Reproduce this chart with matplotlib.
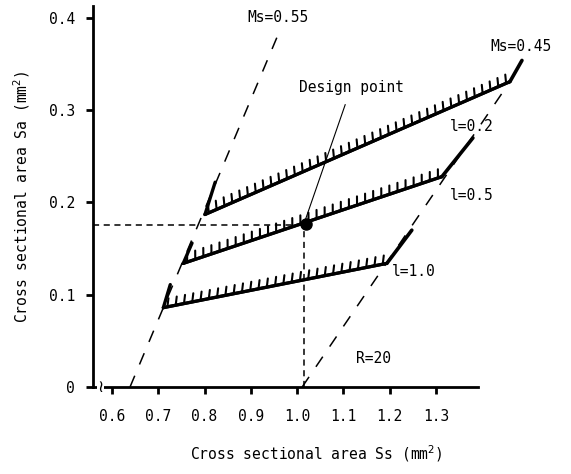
import numpy as np
import matplotlib
matplotlib.use('Agg')
import matplotlib.pyplot as plt
import matplotlib.patheffects as pe

plt.rcParams['font.family'] = ['DejaVu Sans Mono', 'DejaVu Sans']

# boundary lines (dashed)
ms55_x = [0.639, 0.959]
ms55_y = [0.0, 0.382]
ms45_x = [1.011, 1.460]
ms45_y = [0.0, 0.331]

# constant-length lines l = 0.2, 0.5, 1.0
l_labels = ['l=0.2', 'l=0.5', 'l=1.0']
left_x = [0.801, 0.754, 0.711]
left_y = [0.187, 0.134, 0.086]
right_x = [1.460, 1.313, 1.194]
right_y = [0.331, 0.228, 0.134]
# short bold end pieces
ltip_x = [0.823, 0.773, 0.726]
ltip_y = [0.222, 0.156, 0.111]
rtip_x = [1.486, 1.380, 1.248]
rtip_y = [0.354, 0.270, 0.170]
lab_x = [1.378, 1.378, 1.253]
lab_y = [0.282, 0.208, 0.125]

design_x = 1.02
design_y = 0.177
design_vx = 1.015

xticks = [0.6, 0.7, 0.8, 0.9, 1.0, 1.1, 1.2, 1.3]
xticklabels = ['0.6', '0.7', '0.8', '0.9', '1.0', '1.1', '1.2', '1.3']
yticks = [0, 0.1, 0.2, 0.3, 0.4]
yticklabels = ['0', '0.1', '0.2', '0.3', '0.4']

fig = plt.figure(figsize=(5.71, 4.74), dpi=100)
ax = fig.add_axes([93/571, 1-387/474, (540-93)/571, (387-6)/474])
ax.set_xlim(0.559, 1.525)
ax.set_ylim(0, 0.413)

# dashed boundaries
ax.plot(ms55_x, ms55_y, color='k', lw=1.1, dashes=(8, 8))
ax.plot(ms45_x, ms45_y, color='k', lw=1.1, dashes=(8, 8))

# hatched lines
for i in range(3):
    ax.plot([left_x[i], right_x[i]], [left_y[i], right_y[i]], color='k', lw=2.3,
            solid_capstyle='round',
            path_effects=[pe.withTickedStroke(spacing=6, angle=72, length=1.05, linewidth=1.5),
                          pe.Normal()])
    ax.plot([left_x[i], ltip_x[i]], [left_y[i], ltip_y[i]], color='k', lw=2.4,
            solid_capstyle='round')
    ax.plot([right_x[i], rtip_x[i]], [right_y[i], rtip_y[i]], color='k', lw=2.6,
            solid_capstyle='round')
    ax.text(lab_x[i], lab_y[i], l_labels[i], fontsize=10.5, ha='center', va='center')

# design point
ax.plot([0.559, design_x], [design_y - 0.001, design_y - 0.001], color='k', lw=1.1, dashes=(4, 3))
ax.plot([design_vx, design_vx], [0, design_y], color='k', lw=1.1, dashes=(4, 3))
ax.plot([design_x], [design_y], 'o', color='k', ms=8)
ax.plot([1.104, design_x - 0.005], [0.306, design_y], color='k', lw=0.8)
ax.text(1.117, 0.325, 'Design point', fontsize=10.5, ha='center', va='center')

ax.text(0.959, 0.400, 'Ms=0.55', fontsize=10.5, ha='center', va='center')
ax.text(1.484, 0.369, 'Ms=0.45', fontsize=10.5, ha='center', va='center')
ax.text(1.166, 0.031, 'R=20', fontsize=10.5, ha='center', va='center')

# axes styling
for s in ['top', 'right']:
    ax.spines[s].set_visible(False)
ax.spines['left'].set_linewidth(2)
ax.spines['bottom'].set_linewidth(2)
ax.spines['bottom'].set_bounds(0.559, 1.39)
ax.set_xticks(xticks)
ax.set_xticklabels(xticklabels)
ax.set_yticks(yticks)
ax.set_yticklabels(yticklabels)
ax.tick_params(axis='both', direction='out', width=2, length=5, labelsize=10.5)
ax.tick_params(axis='x', pad=11)
ax.tick_params(axis='y', pad=8)

# axis break mark
ax.text(0.575, 0.0, '≀', fontsize=12, ha='center', va='center',
        family=['DejaVu Sans'], bbox=dict(fc='white', ec='none', pad=0))

ax.set_xlabel('Cross sectional area Ss (mm$^2$)', fontsize=10.5, labelpad=14)
ax.set_ylabel('Cross sectional area Sa (mm$^2$)', fontsize=10.5, labelpad=12)

fig.savefig('out.png', dpi=100)
